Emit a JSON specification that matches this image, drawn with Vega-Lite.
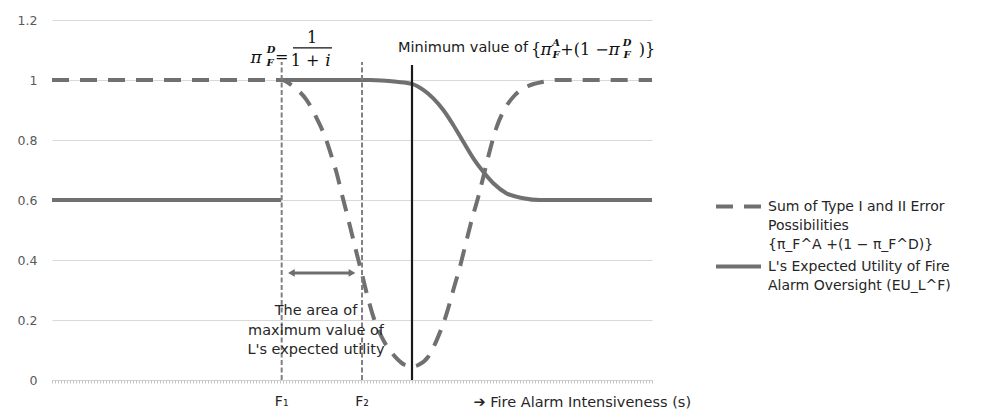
{
  "$schema": "https://vega.github.io/schema/vega-lite/v6.json",
  "width": 600,
  "height": 360,
  "autosize": {"type": "none"},
  "padding": {"left": 52, "top": 20, "right": 330, "bottom": 39},
  "background": "white",
  "config": {
    "view": {"stroke": null},
    "style": {"guide-label": {"lineHeight": 19, "dy": -7}},
    "legend": {
      "orient": "none", "title": null,
      "symbolType": "stroke", "symbolSize": 2025, "symbolStrokeWidth": 4, "symbolStrokeColor": "#707070",
      "labelFont": "DejaVu Sans", "labelFontSize": 14, "labelColor": "#262626", "labelLimit": 300,
      "labelBaseline": "top", "labelOffset": 5, "padding": 0
    }
  },
  "datasets": {
    "curvesA": [
      {"x": 0, "y": 1, "series": "A"},
      {"x": 38.28, "y": 1, "series": "A"},
      {"x": 40.22, "y": 0.978, "series": "A"},
      {"x": 42.45, "y": 0.933, "series": "A"},
      {"x": 44.12, "y": 0.872, "series": "A"},
      {"x": 45.5, "y": 0.811, "series": "A"},
      {"x": 46.62, "y": 0.744, "series": "A"},
      {"x": 47.45, "y": 0.689, "series": "A"},
      {"x": 48.28, "y": 0.622, "series": "A"},
      {"x": 49.12, "y": 0.556, "series": "A"},
      {"x": 49.95, "y": 0.489, "series": "A"},
      {"x": 50.78, "y": 0.422, "series": "A"},
      {"x": 51.62, "y": 0.356, "series": "A"},
      {"x": 52.45, "y": 0.289, "series": "A"},
      {"x": 53.55, "y": 0.211, "series": "A"},
      {"x": 55.22, "y": 0.133, "series": "A"},
      {"x": 57.17, "y": 0.078, "series": "A"},
      {"x": 58.83, "y": 0.05, "series": "A"},
      {"x": 60.0, "y": 0.045, "series": "A"},
      {"x": 61.05, "y": 0.05, "series": "A"},
      {"x": 62.72, "y": 0.078, "series": "A"},
      {"x": 64.12, "y": 0.133, "series": "A"},
      {"x": 65.78, "y": 0.222, "series": "A"},
      {"x": 66.88, "y": 0.3, "series": "A"},
      {"x": 68.0, "y": 0.378, "series": "A"},
      {"x": 68.83, "y": 0.444, "series": "A"},
      {"x": 69.95, "y": 0.533, "series": "A"},
      {"x": 71.05, "y": 0.611, "series": "A"},
      {"x": 72.17, "y": 0.7, "series": "A"},
      {"x": 73.0, "y": 0.767, "series": "A"},
      {"x": 74.12, "y": 0.844, "series": "A"},
      {"x": 75.5, "y": 0.905, "series": "A"},
      {"x": 77.17, "y": 0.95, "series": "A"},
      {"x": 79.38, "y": 0.98, "series": "A"},
      {"x": 81.88, "y": 0.994, "series": "A"},
      {"x": 84.12, "y": 1.0, "series": "A"},
      {"x": 100, "y": 1.0, "series": "A"}
    ],
    "curvesB": [
      {"x": 0, "y": 0.6, "seriesB": "B", "seg": "B1"},
      {"x": 38.2, "y": 0.6, "seriesB": "B", "seg": "B1"},
      {"x": 38.2, "y": 1.0, "seriesB": "B", "seg": "B2"},
      {"x": 53, "y": 1.0, "seriesB": "B", "seg": "B2"},
      {"x": 57.45, "y": 0.994, "seriesB": "B", "seg": "B2"},
      {"x": 60.0, "y": 0.987, "seriesB": "B", "seg": "B2"},
      {"x": 61.88, "y": 0.967, "seriesB": "B", "seg": "B2"},
      {"x": 63.55, "y": 0.939, "seriesB": "B", "seg": "B2"},
      {"x": 65.22, "y": 0.9, "seriesB": "B", "seg": "B2"},
      {"x": 66.88, "y": 0.85, "seriesB": "B", "seg": "B2"},
      {"x": 68.55, "y": 0.794, "seriesB": "B", "seg": "B2"},
      {"x": 70.22, "y": 0.739, "seriesB": "B", "seg": "B2"},
      {"x": 71.88, "y": 0.694, "seriesB": "B", "seg": "B2"},
      {"x": 73.55, "y": 0.656, "seriesB": "B", "seg": "B2"},
      {"x": 75.78, "y": 0.622, "seriesB": "B", "seg": "B2"},
      {"x": 78.55, "y": 0.606, "seriesB": "B", "seg": "B2"},
      {"x": 81.33, "y": 0.6, "seriesB": "B", "seg": "B2"},
      {"x": 100, "y": 0.6, "seriesB": "B", "seg": "B2"}
    ],
    "flines": [
      {"x": 38.28, "y0": 0, "y1": 1.06, "label": "F₁"},
      {"x": 51.67, "y0": 0, "y1": 1.06, "label": "F₂"}
    ],
    "minline": [{"x": 60.0, "y0": 0, "y1": 1.05}],
    "arrow": [{"x": 40.3, "x2": 49.6, "y": 0.357}],
    "arrowL": [{"x": 39.9, "y": 0.357}],
    "arrowR": [{"x": 50.0, "y": 0.357}],
    "areaText": [{"x": 44.0, "y": 0.23, "text": "The area of\nmaximum value of\nL's expected utility"}],
    "sansText": [{"x": 57.67, "y": 1.107, "text": "Minimum value of"}],
    "mathUpright": [
      {"x": 80.67, "y": 1.1, "text": "{"},
      {"x": 88.75, "y": 1.1, "text": "+(1 −"},
      {"x": 99.17, "y": 1.1, "text": ")}"},
      {"x": 38.3, "y": 1.077, "text": "="},
      {"x": 43.33, "y": 1.14, "text": "1"},
      {"x": 42.17, "y": 1.063, "text": "1 +"}
    ],
    "mathItalic": [
      {"x": 82.33, "y": 1.1, "text": "π"},
      {"x": 93.67, "y": 1.1, "text": "π"},
      {"x": 34.0, "y": 1.073, "text": "π"},
      {"x": 46.0, "y": 1.063, "text": "i"}
    ],
    "mathSmall": [
      {"x": 84.0, "y": 1.122, "text": "A"},
      {"x": 84.0, "y": 1.083, "text": "F"},
      {"x": 95.83, "y": 1.122, "text": "D"},
      {"x": 95.83, "y": 1.083, "text": "F"},
      {"x": 36.5, "y": 1.1, "text": "D"},
      {"x": 36.33, "y": 1.057, "text": "F"}
    ],
    "fracBar": [{"x": 40.17, "x2": 46.67, "y": 1.107}]
  },
  "layer": [
    {
      "data": {"name": "curvesA"},
      "mark": {"type": "line", "strokeWidth": 4, "color": "#707070", "interpolate": "monotone", "strokeCap": "butt"},
      "encoding": {
        "x": {
          "field": "x", "type": "quantitative",
          "scale": {"domain": [0, 100], "nice": false},
          "axis": {
            "title": "➔ Fire Alarm Intensiveness (s)",
            "labels": false, "tickCount": 200, "tickSize": 3, "tickColor": "#c0c0c0",
            "domainColor": "#d0d0d0", "grid": false,
            "titleAnchor": "start", "titleX": 421, "titleY": 22, "titleBaseline": "middle", "titleAlign": "left",
            "titleFont": "DejaVu Sans", "titleFontSize": 14.5, "titleFontWeight": "normal", "titleColor": "#262626"
          }
        },
        "y": {
          "field": "y", "type": "quantitative",
          "scale": {"domain": [0, 1.2], "nice": false},
          "axis": {
            "title": null, "values": [0, 0.2, 0.4, 0.6, 0.8, 1, 1.2], "format": "~f",
            "grid": true, "gridColor": "#d9d9d9", "ticks": false, "tickSize": 0, "domain": false,
            "labelPadding": 15, "labelOffset": 7, "labelFont": "DejaVu Sans", "labelFontSize": 12.5, "labelColor": "#595959"
          }
        },
        "strokeDash": {
          "field": "series", "type": "nominal",
          "scale": {"domain": ["A"], "range": [[17, 11]]},
          "legend": {
            "legendX": 662, "legendY": 162,
            "labelExpr": "['Sum of Type I and II Error', 'Possibilities', '{π_F^A +(1 − π_F^D)}']"
          }
        }
      }
    },
    {
      "data": {"name": "curvesB"},
      "mark": {"type": "line", "strokeWidth": 4, "color": "#707070", "interpolate": "monotone", "strokeCap": "butt"},
      "encoding": {
        "x": {"field": "x", "type": "quantitative"},
        "y": {"field": "y", "type": "quantitative"},
        "opacity": {
          "field": "seriesB", "type": "nominal",
          "scale": {"domain": ["B"], "range": [1]},
          "legend": {
            "legendX": 662, "legendY": 222,
            "labelExpr": "[\"L's Expected Utility of Fire\", 'Alarm Oversight (EU_L^F)']"
          }
        },
        "detail": {"field": "seg"}
      }
    },
    {
      "data": {"name": "flines"},
      "mark": {"type": "rule", "strokeDash": [5, 2.5], "strokeWidth": 2, "color": "#808080"},
      "encoding": {
        "x": {"field": "x", "type": "quantitative"},
        "y": {"field": "y0", "type": "quantitative"},
        "y2": {"field": "y1"}
      }
    },
    {
      "data": {"name": "flines"},
      "mark": {"type": "text", "font": "DejaVu Sans", "fontSize": 14, "color": "#262626", "baseline": "middle", "align": "center", "dy": 22},
      "encoding": {
        "x": {"field": "x", "type": "quantitative"},
        "y": {"field": "y0", "type": "quantitative"},
        "text": {"field": "label"}
      }
    },
    {
      "data": {"name": "minline"},
      "mark": {"type": "rule", "strokeWidth": 2.2, "color": "#1a1a1a"},
      "encoding": {
        "x": {"field": "x", "type": "quantitative"},
        "y": {"field": "y0", "type": "quantitative"},
        "y2": {"field": "y1"}
      }
    },
    {
      "data": {"name": "arrow"},
      "mark": {"type": "rule", "strokeWidth": 3, "color": "#6e6e6e"},
      "encoding": {
        "x": {"field": "x", "type": "quantitative"},
        "x2": {"field": "x2"},
        "y": {"field": "y", "type": "quantitative"}
      }
    },
    {
      "data": {"name": "arrowL"},
      "mark": {"type": "point", "shape": "triangle-left", "filled": true, "size": 60, "color": "#6e6e6e", "opacity": 1},
      "encoding": {
        "x": {"field": "x", "type": "quantitative"},
        "y": {"field": "y", "type": "quantitative"}
      }
    },
    {
      "data": {"name": "arrowR"},
      "mark": {"type": "point", "shape": "triangle-right", "filled": true, "size": 60, "color": "#6e6e6e", "opacity": 1},
      "encoding": {
        "x": {"field": "x", "type": "quantitative"},
        "y": {"field": "y", "type": "quantitative"}
      }
    },
    {
      "data": {"name": "areaText"},
      "mark": {"type": "text", "font": "DejaVu Sans", "fontSize": 14.5, "color": "#262626", "align": "center", "baseline": "middle", "lineBreak": "\n", "lineHeight": 19.5},
      "encoding": {
        "x": {"field": "x", "type": "quantitative"},
        "y": {"field": "y", "type": "quantitative"},
        "text": {"field": "text"}
      }
    },
    {
      "data": {"name": "sansText"},
      "mark": {"type": "text", "font": "DejaVu Sans", "fontSize": 14.5, "color": "#1a1a1a", "align": "left", "baseline": "middle"},
      "encoding": {
        "x": {"field": "x", "type": "quantitative"},
        "y": {"field": "y", "type": "quantitative"},
        "text": {"field": "text"}
      }
    },
    {
      "data": {"name": "mathUpright"},
      "mark": {"type": "text", "font": "DejaVu Serif", "fontSize": 16, "color": "#111111", "align": "center", "baseline": "middle"},
      "encoding": {
        "x": {"field": "x", "type": "quantitative"},
        "y": {"field": "y", "type": "quantitative"},
        "text": {"field": "text"}
      }
    },
    {
      "data": {"name": "mathItalic"},
      "mark": {"type": "text", "font": "DejaVu Serif", "fontStyle": "italic", "fontSize": 17, "color": "#111111", "align": "center", "baseline": "middle"},
      "encoding": {
        "x": {"field": "x", "type": "quantitative"},
        "y": {"field": "y", "type": "quantitative"},
        "text": {"field": "text"}
      }
    },
    {
      "data": {"name": "mathSmall"},
      "mark": {"type": "text", "font": "DejaVu Serif", "fontStyle": "italic", "fontWeight": "bold", "fontSize": 10, "color": "#111111", "align": "center", "baseline": "middle"},
      "encoding": {
        "x": {"field": "x", "type": "quantitative"},
        "y": {"field": "y", "type": "quantitative"},
        "text": {"field": "text"}
      }
    },
    {
      "data": {"name": "fracBar"},
      "mark": {"type": "rule", "strokeWidth": 1.2, "color": "#111111"},
      "encoding": {
        "x": {"field": "x", "type": "quantitative"},
        "x2": {"field": "x2"},
        "y": {"field": "y", "type": "quantitative"}
      }
    }
  ]
}
